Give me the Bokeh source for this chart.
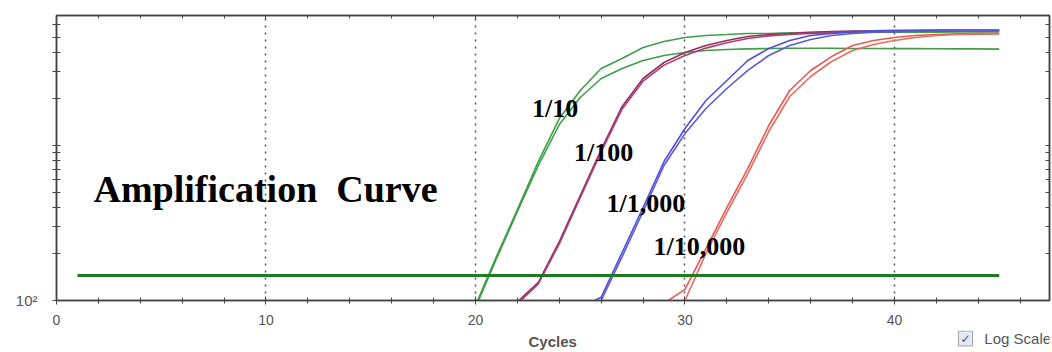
from bokeh.plotting import figure
from bokeh.layouts import column
from bokeh.models import (Range1d, FixedTicker, LinearAxis, LogAxis, Label,
                          CustomJSTickFormatter)
from bokeh.embed import file_html
from bokeh.resources import INLINE
from bokeh.core.properties import value

# ---------------- data (fluorescence per cycle) -------------
green_start = 20
green_a = [93, 192, 386, 788, 1493, 2265, 3142, 3640, 4287, 4690, 4977, 5129, 5200,
           5284, 5284, 5330, 5350, 5370, 5370, 5380, 5380, 5390, 5390, 5400, 5400, 5400]
green_b = [90, 186, 375, 743, 1366, 2041, 2706, 3142, 3535, 3810, 3981, 4100, 4160,
           4200, 4226, 4240, 4240, 4240, 4230, 4230, 4220, 4220, 4210, 4200, 4200, 4190]

purple_start = 22
purple_a = [98, 131, 240, 476, 942, 1786, 2706, 3432, 3981, 4416, 4755, 5047, 5200,
            5284, 5380, 5433, 5480, 5500, 5521, 5521, 5530, 5530, 5540, 5540]
purple_b = [95, 128, 232, 460, 910, 1720, 2600, 3300, 3810, 4250, 4600, 4900, 5100,
            5200, 5284, 5350, 5400, 5433, 5450, 5460, 5470, 5480, 5480, 5490]

blue_start = 25
blue_a = [90, 105, 204, 398, 788, 1288, 1951, 2626, 3535, 4226, 4755, 5129, 5284,
          5433, 5500, 5521, 5540, 5550, 5560, 5560, 5560]
blue_b = [85, 100, 192, 375, 743, 1194, 1733, 2333, 3049, 3810, 4416, 4830, 5129,
          5284, 5380, 5433, 5460, 5480, 5490, 5500, 5500]

red_start = 29
red_a = [96, 118, 216, 398, 711, 1346, 2265, 3049, 3750, 4416, 4755, 4977, 5129,
         5200, 5250, 5284, 5284]
red_b = [85, 100, 201, 370, 659, 1231, 2071, 2788, 3485, 4100, 4487, 4755, 4977,
         5129, 5200, 5230, 5250]

threshold_cycles = [1, 45]
threshold_value = 145

dilution_labels = ["1/10", "1/100", "1/1,000", "1/10,000"]
dilution_label_x = [22.7, 24.7, 26.25, 28.5]
dilution_label_y = [1733, 901, 423, 223]

x_major = [0, 10, 20, 30, 40]
x_minor = list(range(2, 47, 2))
y_major = [100, 1000, 10000]
y_minor = [200, 300, 400, 500, 600, 700, 800, 900, 2000, 3000, 4000, 5000, 6000, 7000, 8000, 9000]

# ---------------- main figure ---------------------------------------------------------
p = figure(width=1052, height=330, output_backend="svg", toolbar_location=None,
           y_axis_type="log", x_range=Range1d(0, 47.4), y_range=Range1d(100, 6900),
           min_border_left=56, min_border_right=3, min_border_top=15,
           min_border_bottom=30)
p.background_fill_color = "white"
p.border_fill_color = "white"
p.outline_line_color = "#444444"
p.outline_line_width = 1.5

AX = "#444444"
LBL = "#555555"
FONT = "Liberation Sans"

xa = p.xaxis[0]
xa.ticker = FixedTicker(ticks=x_major, minor_ticks=x_minor)
xa.major_label_text_font = FONT
xa.major_label_text_font_size = "14px"
xa.major_label_text_color = LBL
xa.major_label_standoff = 10
xa.axis_line_color = AX
xa.axis_line_width = 1.5
xa.major_tick_line_color = AX
xa.minor_tick_line_color = AX
xa.major_tick_in = 4
xa.major_tick_out = 4
xa.minor_tick_in = 3
xa.minor_tick_out = 3

ya = p.yaxis[0]
ya.ticker = FixedTicker(ticks=y_major, minor_ticks=y_minor)
ya.formatter = CustomJSTickFormatter(code="return Math.abs(tick - 100) < 1e-6 ? '10\u00b2' : '';")
ya.major_label_text_font = FONT
ya.major_label_text_font_size = "15px"
ya.major_label_text_color = LBL
ya.major_label_standoff = 15
ya.axis_line_color = AX
ya.axis_line_width = 1.5
ya.major_tick_line_color = AX
ya.minor_tick_line_color = AX
ya.major_tick_in = 4
ya.major_tick_out = 4
ya.minor_tick_in = 4
ya.minor_tick_out = 4

blank = CustomJSTickFormatter(code="return '';")
top = LinearAxis(ticker=FixedTicker(ticks=x_major, minor_ticks=x_minor), formatter=blank,
                 major_tick_in=4, major_tick_out=0, minor_tick_in=3, minor_tick_out=0,
                 axis_line_color=AX, axis_line_width=1.5, major_tick_line_color=AX,
                 minor_tick_line_color=AX, major_label_standoff=0,
                 major_label_text_font_size="1px")
p.add_layout(top, "above")
right = LogAxis(ticker=FixedTicker(ticks=y_major, minor_ticks=y_minor), formatter=blank,
                major_tick_in=4, major_tick_out=0, minor_tick_in=4, minor_tick_out=0,
                axis_line_color=AX, axis_line_width=1.5, major_tick_line_color=AX,
                minor_tick_line_color=AX, major_label_standoff=0,
                major_label_text_font_size="1px")
p.add_layout(right, "right")

p.xgrid.ticker = FixedTicker(ticks=[10, 20, 30, 40])
p.xgrid.grid_line_color = "#555555"
p.xgrid.grid_line_dash = "2 5"
p.xgrid.grid_line_width = 1.5
p.ygrid.grid_line_color = None

def cyc(start, vals):
    return list(range(start, start + len(vals)))

series = [
    (green_start, green_a, "#3f9f48"), (green_start, green_b, "#3f9f48"),
    (purple_start, purple_a, "#94305f"), (purple_start, purple_b, "#a8407a"),
    (blue_start, blue_a, "#4f4fcf"), (blue_start, blue_b, "#5a5ad6"),
    (red_start, red_a, "#e45a52"), (red_start, red_b, "#e86a60"),
]
for start, vals, col in series:
    p.line(cyc(start, vals), vals, line_color=col, line_width=1.6)

p.line(threshold_cycles, [threshold_value] * len(threshold_cycles),
       line_color="#1f7a22", line_width=3)

p.text(x=dilution_label_x, y=dilution_label_y, text=dilution_labels,
       text_font=value("Liberation Serif"), text_font_style="bold",
       text_font_size="26px", text_color="black", text_baseline="alphabetic")

p.add_layout(Label(x=37, y=112, x_units="screen", y_units="screen",
                   text="Amplification\u00a0\u00a0Curve", text_font="Liberation Serif",
                   text_font_style="bold", text_font_size="38px", text_color="black",
                   text_baseline="alphabetic"))

# ---------------- bottom strip: axis title and the "Log Scale" checkbox ---------------
q = figure(width=1052, height=22, output_backend="svg", toolbar_location=None,
           x_range=Range1d(0, 1052), y_range=Range1d(0, 22),
           x_axis_location=None, y_axis_location=None,
           min_border_left=0, min_border_right=0, min_border_top=0, min_border_bottom=0)
q.outline_line_color = None
q.background_fill_color = "white"
q.border_fill_color = "white"
q.xgrid.grid_line_color = None
q.ygrid.grid_line_color = None

q.text(x=[500], y=[11], text=["Cycles"], text_font=value(FONT), text_font_style="bold",
       text_font_size="15px", text_color=LBL, text_align="left", text_baseline="middle")
q.rect(x=[963], y=[14], width=15, height=15, fill_color="#e6e9f2", line_color="#9aa0aa")
q.text(x=[963], y=[14], text=["\u2713"], text_font=value("DejaVu Sans"),
       text_font_size="12px", text_color="#3c4fa0", text_align="center",
       text_baseline="middle")
q.text(x=[983], y=[14], text=["Log Scale"], text_font=value(FONT),
       text_font_size="15px", text_color=LBL, text_align="left", text_baseline="middle")

layout = column(p, q, spacing=0)
open("out.html", "w").write(file_html(layout, INLINE))
